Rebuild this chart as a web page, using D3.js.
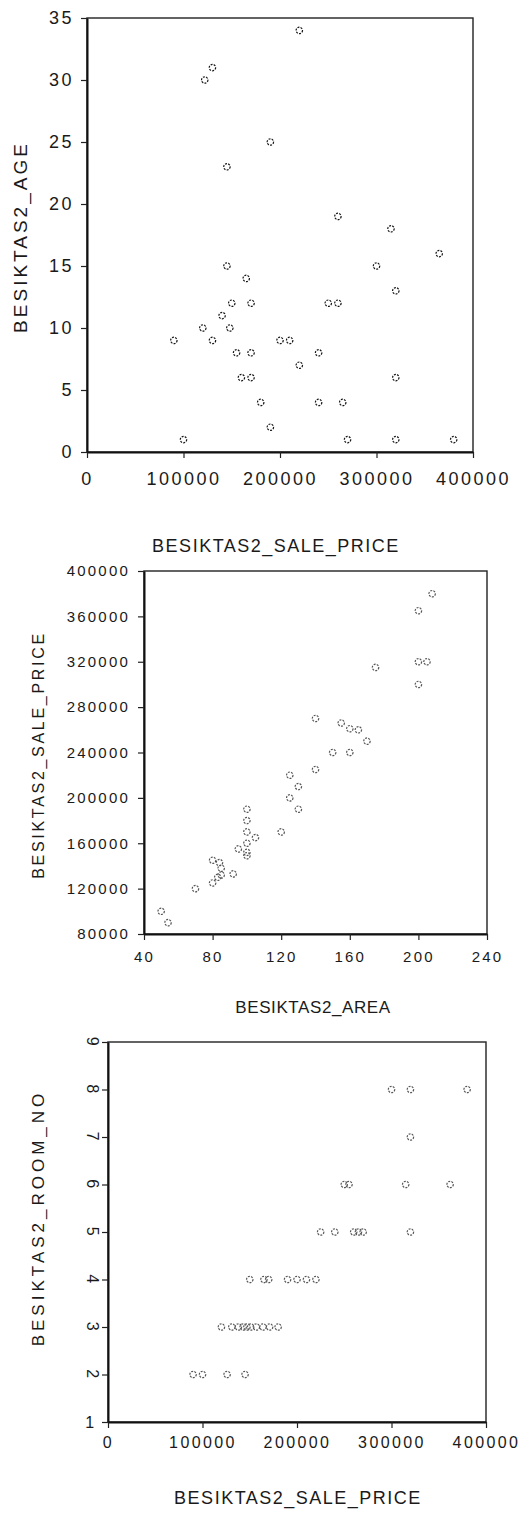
<!DOCTYPE html>
<html>
<head>
<meta charset="utf-8">
<script src="https://cdnjs.cloudflare.com/ajax/libs/d3/7.8.5/d3.min.js"></script>
<style>
  body { margin: 0; background: #fff; }
  text { font-family: "Liberation Sans", Arial, sans-serif; fill: #1a1a1a; }
</style>
</head>
<body>
<script>
// chart 1 : sale price vs age
var agePrice = [220000, 130000, 122000, 145000, 190000, 260000, 315000, 145000, 165000, 300000,
  365000, 320000, 150000, 170000, 250000, 260000, 140000, 120000, 148000, 90000,
  130000, 200000, 210000, 155000, 170000, 240000, 220000, 160000, 170000, 320000,
  180000, 240000, 265000, 190000, 100000, 270000, 320000, 380000];
var ageYears = [34, 31, 30, 23, 25, 19, 18, 15, 14, 15,
  16, 13, 12, 12, 12, 12, 11, 10, 10, 9,
  9, 9, 9, 8, 8, 8, 7, 6, 6, 6,
  4, 4, 4, 2, 1, 1, 1, 1];

// chart 2 : area vs sale price
var areaSqm = [50, 54, 70, 80, 84, 85, 80, 83, 85, 92,
  95, 100, 100, 100, 100, 100, 100, 105, 120, 125,
  125, 130, 130, 140, 140, 150, 160, 170, 155, 160,
  165, 175, 200, 208, 200, 205, 200];
var areaPrice = [100000, 90000, 120000, 145000, 143000, 138000, 125000, 130000, 132000, 133000,
  155000, 190000, 180000, 170000, 160000, 152000, 149000, 165000, 170000, 220000,
  200000, 210000, 190000, 225000, 270000, 240000, 240000, 250000, 266000, 261000,
  260000, 315000, 365000, 380000, 320000, 320000, 300000];

// chart 3 : sale price vs room count
var roomPrice = [300000, 320000, 380000, 320000,
  250000, 255000, 315000, 362000,
  225000, 240000, 260000, 265000, 270000, 320000,
  150000, 165000, 170000, 190000, 200000, 210000, 220000,
  120000, 131000, 138000, 143000, 147000, 151000, 157000, 164000, 171000, 180000,
  90000, 100000, 126000, 145000];
var roomNo = [8, 8, 8, 7,
  6, 6, 6, 6,
  5, 5, 5, 5, 5, 5,
  4, 4, 4, 4, 4, 4, 4,
  3, 3, 3, 3, 3, 3, 3, 3, 3, 3,
  2, 2, 2, 2];

var priceTicks = [0, 100000, 200000, 300000, 400000];
var ageTicks = [0, 5, 10, 15, 20, 25, 30, 35];
var areaTicks = [40, 80, 120, 160, 200, 240];
var salePriceTicks = [80000, 120000, 160000, 200000, 240000, 280000, 320000, 360000, 400000];
var roomTicks = [1, 2, 3, 4, 5, 6, 7, 8, 9];

var svg = d3.select("body").append("svg")
  .attr("width", 523)
  .attr("height", 1513);

svg.append("rect").attr("width", 523).attr("height", 1513).attr("fill", "#fff");

function scatter(o) {
  var x = d3.scaleLinear().domain(o.xDomain).range([o.left, o.right]);
  var y = d3.scaleLinear().domain(o.yDomain).range([o.bottom, o.top]);
  var g = svg.append("g");

  g.append("rect")
    .attr("x", o.left).attr("y", o.top)
    .attr("width", o.right - o.left).attr("height", o.bottom - o.top)
    .attr("fill", "none").attr("stroke", "#222").attr("stroke-width", 1.4);

  var xa = g.append("g")
    .attr("transform", "translate(0," + o.bottom + ")")
    .call(d3.axisBottom(x).tickValues(o.xTicks).tickFormat(d3.format("d"))
      .tickSize(6).tickSizeOuter(0).tickPadding(o.xPad));
  var ya = g.append("g")
    .attr("transform", "translate(" + o.left + ",0)")
    .call(d3.axisLeft(y).tickValues(o.yTicks).tickFormat(d3.format("d"))
      .tickSize(6).tickSizeOuter(0).tickPadding(o.yPad));

  [xa, ya].forEach(function(a) {
    a.select(".domain").attr("stroke", "#111").attr("stroke-width", 2);
    a.selectAll(".tick line").attr("stroke", "#222").attr("stroke-width", 1.2);
    a.selectAll("text")
      .style("font-size", o.tickFont + "px")
      .style("letter-spacing", o.tickSpacing + "px");
  });

  if (o.rotateYLabels) {
    ya.selectAll("text")
      .attr("x", 0).attr("dy", "0.35em")
      .attr("text-anchor", "middle")
      .attr("transform", function(d) {
        return d === 1 ? "translate(-17,0)" : "translate(-15,0) rotate(90)";
      });
  }

  g.selectAll("circle.pt")
    .data(d3.zip(o.xs, o.ys))
    .join("circle")
    .attr("class", "pt")
    .attr("cx", function(d) { return x(d[0]); })
    .attr("cy", function(d) { return y(d[1]); })
    .attr("r", 3.2)
    .attr("fill", "none")
    .attr("stroke", o.dotColor)
    .attr("stroke-width", 1.2)
    .attr("stroke-dasharray", "2,1.2");

  g.append("text")
    .attr("x", o.xTitlePos[0]).attr("y", o.xTitlePos[1])
    .attr("dy", "0.35em")
    .attr("text-anchor", "middle")
    .style("font-size", o.xTitleFont + "px")
    .style("letter-spacing", o.xTitleSpacing + "px")
    .text(o.xTitle);

  g.append("text")
    .attr("transform", "translate(" + o.yTitlePos[0] + "," + o.yTitlePos[1] + ") rotate(-90)")
    .attr("dy", "0.35em")
    .attr("text-anchor", "middle")
    .style("font-size", o.yTitleFont + "px")
    .style("letter-spacing", o.yTitleSpacing + "px")
    .text(o.yTitle);
}

scatter({
  xs: agePrice, ys: ageYears,
  xDomain: [0, 400000], yDomain: [0, 35],
  left: 87, right: 473, top: 18, bottom: 452,
  xTicks: priceTicks, yTicks: ageTicks,
  xPad: 14, yPad: 7, tickFont: 18, tickSpacing: 2.5,
  dotColor: "#151515",
  xTitle: "BESIKTAS2_SALE_PRICE", xTitlePos: [276, 546], xTitleFont: 18, xTitleSpacing: 1.5,
  yTitle: "BESIKTAS2_AGE", yTitlePos: [20, 237], yTitleFont: 19, yTitleSpacing: 3
});

scatter({
  xs: areaSqm, ys: areaPrice,
  xDomain: [40, 240], yDomain: [80000, 400000],
  left: 144, right: 487, top: 571, bottom: 934,
  xTicks: areaTicks, yTicks: salePriceTicks,
  xPad: 11, yPad: 8, tickFont: 15, tickSpacing: 2.2,
  dotColor: "#555",
  xTitle: "BESIKTAS2_AREA", xTitlePos: [313, 1007], xTitleFont: 17, xTitleSpacing: 0.6,
  yTitle: "BESIKTAS2_SALE_PRICE", yTitlePos: [38, 755], yTitleFont: 16, yTitleSpacing: 2.7
});

scatter({
  xs: roomPrice, ys: roomNo,
  xDomain: [0, 400000], yDomain: [1, 9],
  left: 108, right: 486, top: 1042, bottom: 1422,
  xTicks: priceTicks, yTicks: roomTicks,
  xPad: 9, yPad: 8, tickFont: 16, tickSpacing: 2.4,
  dotColor: "#555", rotateYLabels: true,
  xTitle: "BESIKTAS2_SALE_PRICE", xTitlePos: [298, 1498], xTitleFont: 18, xTitleSpacing: 1.5,
  yTitle: "BESIKTAS2_ROOM_NO", yTitlePos: [38, 1218], yTitleFont: 17, yTitleSpacing: 4
});
</script>
</body>
</html>
